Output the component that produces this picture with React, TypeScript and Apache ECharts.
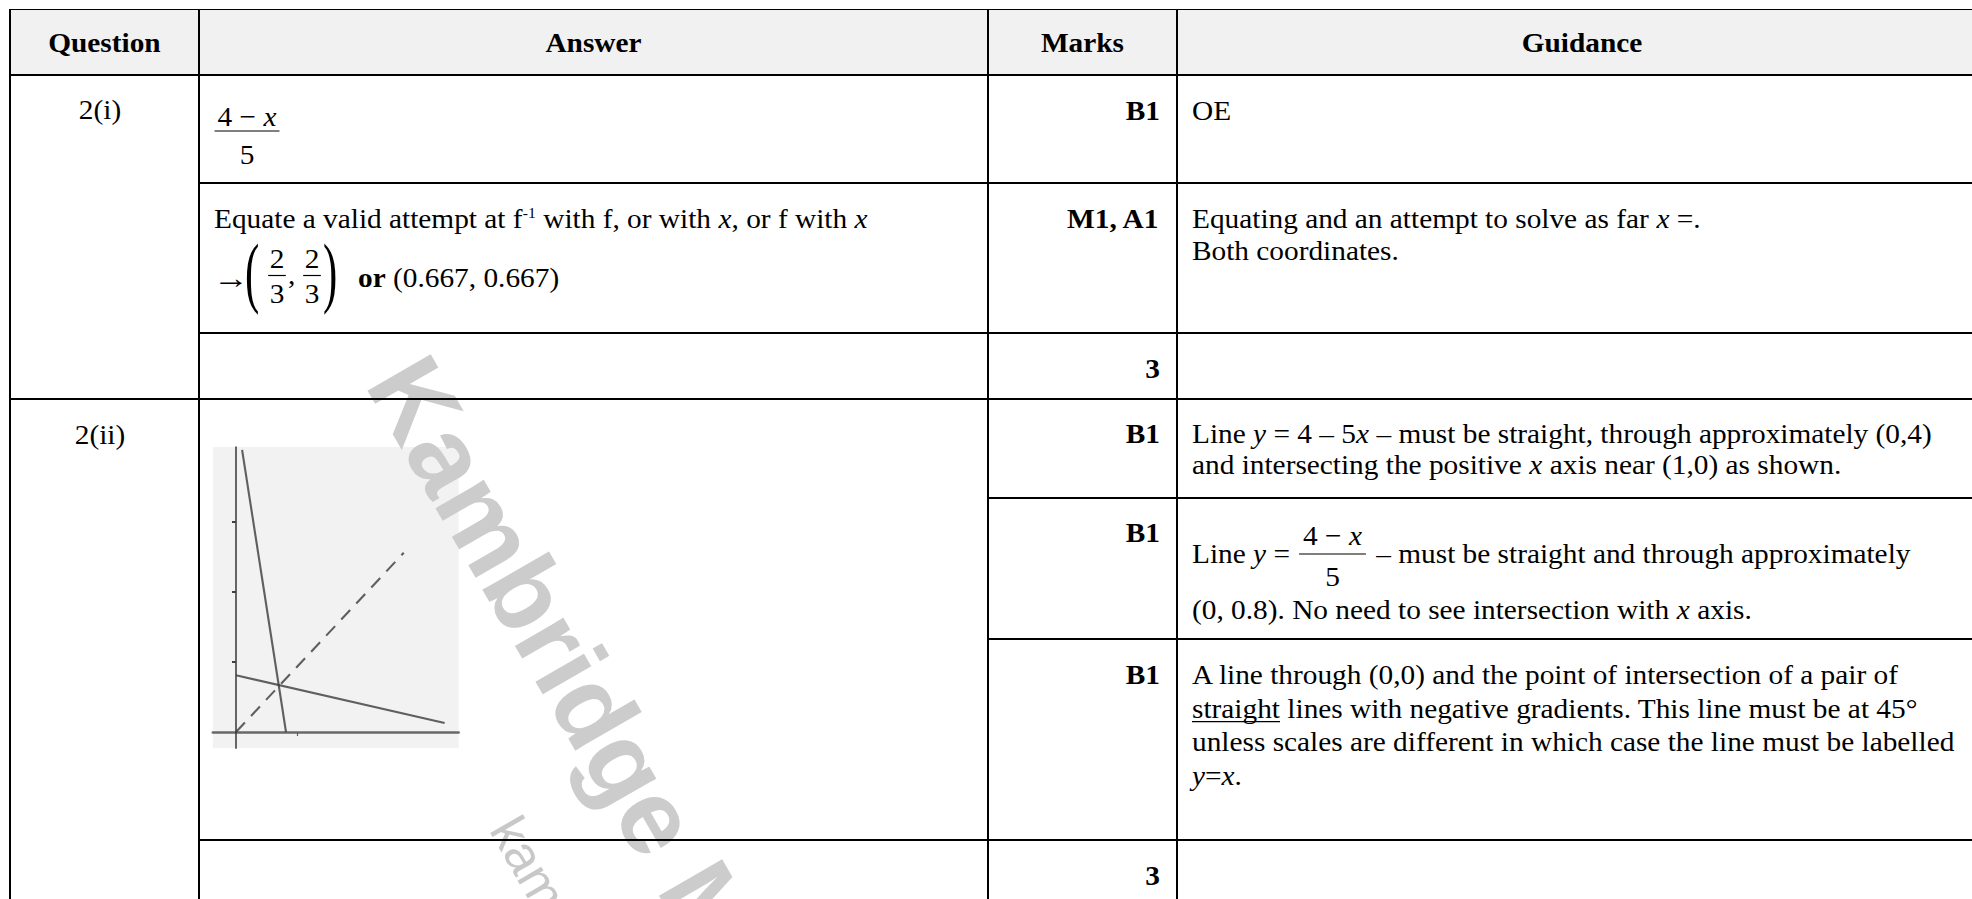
import React, { useEffect, useRef } from 'react';
import * as echarts from 'echarts';

// ---------------- data ----------------
const HEADERS = ['Question', 'Answer', 'Marks', 'Guidance'];
const QUESTIONS = ['2(i)', '2(ii)'];
const MARKS_2I = ['B1', 'M1, A1', '3'];
const MARKS_2II = ['B1', 'B1', 'B1', '3'];

// hand-drawn sketch in 2(ii)
const SKETCH_X_RANGE = [-0.38, 3.65];
const SKETCH_Y_RANGE = [-0.23, 4.07];
const SKETCH_X_TICKS = [1];
const SKETCH_Y_TICKS = [1, 2, 3];
const LINE_STEEP = [[0.1, 4.03], [0.82, 0]]; // y = 4 − 5x
const LINE_SHALLOW = [[0, 0.81], [3.42, 0.13]]; // y = (4 − x)/5
const LINE_DIAG = [[0, 0], [2.75, 2.56]]; // y = x (dashed)

// ---------------- layout helpers ----------------
const SERIF = '"Liberation Serif", "Times New Roman", Times, serif';
const SANS = '"Liberation Sans", Arial, Helvetica, sans-serif';
const FS = 28;
const SX = 1.048;
const MID = 0.3375;

type Seg = { t: string; b?: boolean; i?: boolean; fs?: number; rise?: number; u?: boolean };

let mctx: CanvasRenderingContext2D | null = null;
function measure(t: string, fs: number, b: boolean, i: boolean): number {
  if (!mctx) mctx = document.createElement('canvas').getContext('2d');
  mctx!.font = `${i ? 'italic ' : ''}${b ? 'bold ' : ''}${fs}px ${SERIF}`;
  return mctx!.measureText(t).width;
}

function txt(t: string, x: number, y: number, o: any = {}) {
  return {
    type: 'text',
    x,
    y,
    scaleX: o.sx ?? SX,
    z: 60,
    silent: true,
    style: {
      text: t,
      x: 0,
      y: 0,
      fill: o.fill ?? '#000',
      fontSize: o.fs ?? FS,
      fontFamily: o.family ?? SERIF,
      fontWeight: o.b ? 'bold' : 'normal',
      fontStyle: o.i ? 'italic' : 'normal',
      align: o.align ?? 'left',
      verticalAlign: 'middle',
    },
  };
}

function hline(x1: number, x2: number, y: number, w: number) {
  return { type: 'line', z: 70, silent: true, shape: { x1, y1: y, x2, y2: y }, style: { stroke: '#000', lineWidth: w } };
}
function vline(x: number, y1: number, y2: number, w: number) {
  return { type: 'line', z: 70, silent: true, shape: { x1: x, y1, x2: x, y2 }, style: { stroke: '#000', lineWidth: w } };
}

function widthOf(segs: Seg[]): number {
  return segs.reduce((a, s) => a + measure(s.t, s.fs ?? FS, !!s.b, !!s.i) * SX, 0);
}

function run(out: any[], segs: Seg[], x0: number, cy: number, align: 'left' | 'center' | 'right' = 'left'): number {
  const ws = segs.map((s) => measure(s.t, s.fs ?? FS, !!s.b, !!s.i) * SX);
  const total = ws.reduce((a, b) => a + b, 0);
  let x = align === 'left' ? x0 : align === 'center' ? x0 - total / 2 : x0 - total;
  const base = cy + MID * FS;
  segs.forEach((s, k) => {
    const fs = s.fs ?? FS;
    const body = s.t.trim();
    if (body) {
      const lead = s.t.length - s.t.trimStart().length;
      const lx = x + (lead ? measure(s.t.slice(0, lead), fs, !!s.b, !!s.i) * SX : 0);
      out.push(txt(body, lx, base - (s.rise ?? 0) - MID * fs, { fs, b: s.b, i: s.i }));
      if (s.u) {
        const w = measure(body, fs, !!s.b, !!s.i) * SX;
        out.push(hline(lx, lx + w, base + 4, 1.3));
      }
    }
    x += ws[k];
  });
  return x;
}

function frac(out: any[], num: Seg[], den: Seg[], cx: number, numCy: number, barY: number, denCy: number, pad: number) {
  const w = Math.max(widthOf(num), widthOf(den)) + 2 * pad;
  run(out, num, cx, numCy, 'center');
  out.push(hline(cx - w / 2, cx + w / 2, barY, 1.2));
  run(out, den, cx, denCy, 'center');
  return w;
}

// ---------------- table geometry ----------------
const RIGHT = 1972;
const X_LEFT = 10;
const X_Q = 199;
const X_A = 988;
const X_M = 1177;
const Y_TOP = 9.5;
const Y_HEAD = 75;
const MARK_RIGHT = 1160;
const GUIDE_X = 1192;
const ANSWER_X = 214;
const WM_ANGLE = (-60 * Math.PI) / 180;

function buildGraphic() {
  const out: any[] = [];

  // header background
  out.push({ type: 'rect', z: 1, silent: true, shape: { x: 9, y: 9, width: RIGHT - 9, height: 66 }, style: { fill: '#f1f1f1' } });

  // watermarks
  out.push({
    type: 'text', x: 396, y: 366, rotation: WM_ANGLE, z: 40, silent: true,
    style: { text: 'Kambridge M', x: 0, y: 0, fontSize: 106, fontFamily: SANS, fontWeight: 'bold', fill: '#cccccc', align: 'left', verticalAlign: 'middle' },
  });
  out.push({
    type: 'text', x: 504, y: 821, rotation: WM_ANGLE, z: 40, silent: true,
    style: { text: 'kam', x: 0, y: 0, fontSize: 52, fontFamily: SANS, fontWeight: 'normal', fill: '#c8c8c8', align: 'left', verticalAlign: 'middle' },
  });

  // grid lines
  out.push(hline(9, RIGHT, Y_TOP, 1));
  out.push(hline(9, RIGHT, Y_HEAD, 2));
  out.push(hline(X_Q, RIGHT, 183, 2));
  out.push(hline(X_Q, RIGHT, 333, 2));
  out.push(hline(9, RIGHT, 399, 2));
  out.push(hline(X_A, RIGHT, 498, 2));
  out.push(hline(X_A, RIGHT, 639, 2));
  out.push(hline(X_Q, RIGHT, 840, 2));
  [X_LEFT, X_Q, X_A, X_M].forEach((x) => out.push(vline(x, 9, 899, 2)));

  // header texts
  const headCenters = [(X_LEFT + X_Q) / 2, (X_Q + X_A) / 2, (X_A + X_M) / 2, 1582];
  HEADERS.forEach((h, k) => run(out, [{ t: h, b: true }], headCenters[k], 42.5, 'center'));

  // question labels
  run(out, [{ t: QUESTIONS[0] }], 100, 109, 'center');
  run(out, [{ t: QUESTIONS[1] }], 100, 434, 'center');

  // marks
  const markY2i = [110.6, 218.6, 368.6];
  MARKS_2I.forEach((m, k) => run(out, [{ t: m, b: true }], MARK_RIGHT, markY2i[k], 'right'));
  const markY2ii = [433, 532, 674.6, 875.6];
  MARKS_2II.forEach((m, k) => run(out, [{ t: m, b: true }], MARK_RIGHT, markY2ii[k], 'right'));

  // ---- answers 2(i)
  frac(out, [{ t: '4 − ' }, { t: 'x', i: true }], [{ t: '5' }], 247, 116, 131, 154.5, 3);

  run(out, [
    { t: 'Equate a valid attempt at f' },
    { t: '-1', fs: 15, rise: 10 },
    { t: ' with f, or with ' },
    { t: 'x', i: true },
    { t: ', or f with ' },
    { t: 'x', i: true },
  ], ANSWER_X, 218.6);

  out.push(txt('→', ANSWER_X - 1, 278, { fs: 30, sx: 1.2 }));
  out.push(txt('(', 245, 271.7, { fs: 78, sx: 0.55 }));
  frac(out, [{ t: '2' }], [{ t: '3' }], 277, 258.5, 275.5, 293.5, 1.5);
  run(out, [{ t: ',' }], 288, 274);
  frac(out, [{ t: '2' }], [{ t: '3' }], 312, 258.5, 275.5, 293.5, 1.5);
  out.push(txt(')', 323, 271.7, { fs: 78, sx: 0.55 }));
  run(out, [{ t: 'or', b: true }, { t: ' (0.667, 0.667)' }], 358, 277);

  // ---- guidance 2(i)
  run(out, [{ t: 'OE' }], GUIDE_X, 110.6);
  run(out, [{ t: 'Equating and an attempt to solve as far ' }, { t: 'x', i: true }, { t: ' =.' }], GUIDE_X, 218.6);
  run(out, [{ t: 'Both coordinates.' }], GUIDE_X, 250);

  // ---- guidance 2(ii)
  run(out, [
    { t: 'Line ' }, { t: 'y', i: true }, { t: ' = 4 – 5' }, { t: 'x', i: true },
    { t: ' – must be straight, through approximately (0,4)' },
  ], GUIDE_X, 433);
  run(out, [
    { t: 'and intersecting the positive ' }, { t: 'x', i: true }, { t: ' axis near (1,0) as shown.' },
  ], GUIDE_X, 464);

  const xEq = run(out, [{ t: 'Line ' }, { t: 'y', i: true }, { t: ' =' }], GUIDE_X, 553);
  const numSegs: Seg[] = [{ t: '4 − ' }, { t: 'x', i: true }];
  const barW = widthOf(numSegs) + 8;
  const barStart = xEq + 9;
  frac(out, numSegs, [{ t: '5' }], barStart + barW / 2, 535, 554, 576, 4);
  run(out, [{ t: ' – must be straight and through approximately' }], barStart + barW + 3, 553);
  run(out, [
    { t: '(0, 0.8). No need to see intersection with ' }, { t: 'x', i: true }, { t: ' axis.' },
  ], GUIDE_X, 609);

  run(out, [{ t: 'A line through (0,0) and the point of intersection of a pair of' }], GUIDE_X, 674.6);
  run(out, [{ t: 'straight', u: true }, { t: ' lines with negative gradients. This line must be at 45°' }], GUIDE_X, 708.1);
  run(out, [{ t: 'unless scales are different in which case the line must be labelled' }], GUIDE_X, 741.6);
  run(out, [{ t: 'y', i: true }, { t: '=' }, { t: 'x', i: true }, { t: '.' }], GUIDE_X, 775.1);

  return out;
}

function buildOption(): any {
  const gx0 = 236; // pixel of x = 0
  const gy0 = 732; // pixel of y = 0
  const ux = 61; // px per unit x
  const uy = 70; // px per unit y
  const sketchLine = { color: '#3a3a3a', width: 2.1, opacity: 0.8 };
  return {
    animation: false,
    backgroundColor: '#ffffff',
    grid: {
      left: gx0 + SKETCH_X_RANGE[0] * ux,
      top: gy0 - SKETCH_Y_RANGE[1] * uy,
      width: (SKETCH_X_RANGE[1] - SKETCH_X_RANGE[0]) * ux,
      height: (SKETCH_Y_RANGE[1] - SKETCH_Y_RANGE[0]) * uy,
      show: true,
      backgroundColor: '#f2f2f2',
      borderWidth: 0,
      containLabel: false,
    },
    xAxis: {
      type: 'value',
      min: SKETCH_X_RANGE[0],
      max: SKETCH_X_RANGE[1],
      axisLine: { show: true, onZero: true, lineStyle: { color: '#3a3a3a', width: 2.6, opacity: 0.75 } },
      axisTick: { show: true, customValues: SKETCH_X_TICKS, length: 4, lineStyle: { color: '#606060', width: 1.2 } },
      axisLabel: { show: false },
      splitLine: { show: false },
    },
    yAxis: {
      type: 'value',
      min: SKETCH_Y_RANGE[0],
      max: SKETCH_Y_RANGE[1],
      axisLine: { show: true, onZero: true, lineStyle: { color: '#3a3a3a', width: 1.9, opacity: 0.8 } },
      axisTick: { show: true, customValues: SKETCH_Y_TICKS, length: 4, lineStyle: { color: '#404040', width: 2 } },
      axisLabel: { show: false },
      splitLine: { show: false },
    },
    series: [
      { type: 'line', data: LINE_STEEP, symbol: 'none', silent: true, lineStyle: { ...sketchLine } },
      { type: 'line', data: LINE_SHALLOW, symbol: 'none', silent: true, lineStyle: { ...sketchLine } },
      { type: 'line', data: LINE_DIAG, symbol: 'none', silent: true, lineStyle: { ...sketchLine, type: [13, 9] } },
    ],
    graphic: { elements: buildGraphic() },
  };
}

export default function App() {
  const ref = useRef<HTMLDivElement>(null);
  useEffect(() => {
    if (!ref.current) return;
    const chart = echarts.init(ref.current, null, { renderer: 'svg' });
    chart.setOption(buildOption());
    return () => chart.dispose();
  }, []);
  return (
    <div
      ref={ref}
      style={{ position: 'fixed', left: 0, top: 0, width: 1972, height: 899, background: '#fff' }}
    />
  );
}
